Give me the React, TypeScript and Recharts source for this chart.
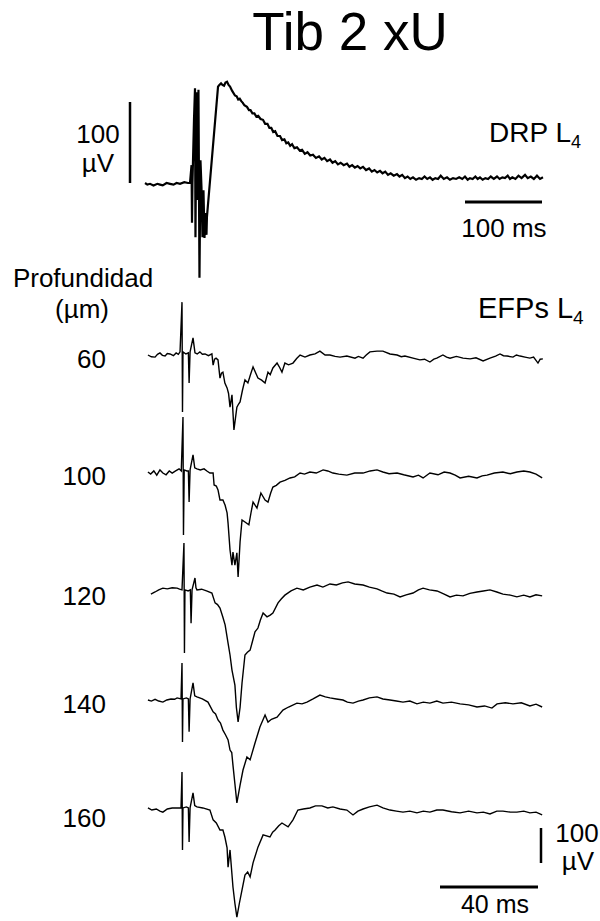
import React from 'react';
import { LineChart, Line, XAxis, YAxis, ReferenceLine } from 'recharts';

type Pt = [number, number]; // [ms, µV]

// DRP L4 root potential, time (ms) from stimulus, amplitude (µV)
const DRP_TRACE: Pt[] = [
  [-61, 0], [-58, -2], [-54.5, -1], [-50, -3], [-45, -1], [-41.6, -2], [-38, -3], [-33, 0], [-28.6, -1], [-24, -2],
  [-20, 0], [-15.6, -1], [-10, 1], [-5.2, 0], [-2.6, 0],
  [-0.6, 22], [0, -49], [0.6, 0], [2.6, 78], [3.9, 117], [4.5, -67], [5.8, 112], [7.1, -21], [8.4, 115], [9.7, -117],
  [11, 28], [12.3, -5], [13.6, -67], [14.9, -9], [16.2, -68], [17.5, -37], [18.8, -64], [19.4, -42],
  [33.8, 119], [35.5, 121], [37.7, 123], [39.5, 121], [41.6, 120], [43.5, 124], [45.5, 125], [47.5, 121], [49.4, 119],
  [52, 114], [55.8, 108], [58, 107], [60, 103], [62, 104], [64, 101], [66, 99], [68, 96], [71.4, 94], [74, 90],
  [76, 90], [78.5, 86], [81, 86], [83.5, 82], [86, 83], [89, 79], [92.2, 78], [95, 73], [98, 73], [100.5, 68],
  [103, 68], [105.5, 63], [108, 64], [111, 58], [114.3, 58], [117, 53], [120, 54], [122.5, 49], [125, 50], [127.5, 46],
  [130, 48], [133, 43], [136.4, 44], [140, 40], [143, 41], [146.5, 36], [150, 38], [153.5, 34], [157.1, 35], [161, 31],
  [165, 33], [168.5, 29], [172, 31], [175.5, 27], [179.2, 29], [182.5, 25], [186, 27], [189.5, 23], [193, 25],
  [197, 22], [201.3, 24], [204.5, 20], [208, 22], [211.5, 19], [215, 21], [218.5, 18], [222.1, 20], [226, 16],
  [230, 18], [233.5, 14], [237, 16], [240.5, 13], [244.2, 15], [247.5, 12], [251, 14], [254.5, 10], [258, 12],
  [262, 9], [266.2, 11], [269.5, 8], [273, 10], [276.5, 6], [280, 8], [283.5, 5], [287, 7], [291, 4], [295, 6],
  [298.5, 5], [302, 8], [305.5, 5], [309.1, 7], [312.5, 4], [316, 6], [319.5, 5], [323, 9], [327, 5], [331.2, 7],
  [335, 4], [339, 6], [343, 5], [347, 7], [351, 5], [354.5, 8], [358, 4], [361, 6], [364.5, 5], [368, 8], [371, 5],
  [374, 7], [377.5, 4], [381, 6], [384.5, 5], [388, 8], [392, 5], [396.1, 8], [399.5, 5], [403, 7], [406.5, 6],
  [410, 9], [413, 5], [416, 7], [420, 5], [424, 9], [428, 6], [432.5, 10], [436, 6], [440, 8], [444, 5], [448, 9],
  [452, 5], [455.8, 7],
];

// EFPs L4 at each depth
const DEPTHS = ['60', '100', '120', '140', '160'];

const EFP_60: Pt[] = [
  [-13.9, 0], [-12.5, -5], [-11, -6], [-10, 2], [-9, 6], [-8, -1], [-6.9, -3], [-6, 4], [-4.9, 3], [-3.5, -2], [-2.4, 6],
  [-1.5, 2], [-0.8, 9], [0, 151], [0.2, -163], [0.4, 9], [1.6, 3], [2.6, 6], [2.9, -80], [3.3, 9], [4.5, 49], [5.3, 6],
  [6.2, 3], [7.3, 9], [8.3, 2], [9.4, 3], [10.8, -2], [12.2, 3], [12.7, -29], [13.3, -12], [13.9, -9], [14.7, -14],
  [15.5, -66], [16.1, -52], [16.7, -49], [17.5, -80], [18.4, -94], [19, -110], [19.6, -149], [20.4, -114], [21.2, -214],
  [22.4, -149], [23.1, -140], [23.7, -134], [24.7, -100], [25.7, -71], [26.9, -80], [28, -55], [29, -34], [30, -50],
  [31, -66], [32.5, -72], [33.9, -80], [35.1, -49], [36, -56], [37.1, -37], [38.8, -23], [39.8, -35], [40.8, -49],
  [42, -23], [43.5, -28], [45.3, -23], [46.8, -10], [48.2, 0], [50.2, -6], [52.2, 0], [54.3, 3], [56.3, 11], [58.4, 0],
  [60.4, 0], [62.5, -4], [64.5, -6], [67.3, -3], [70.6, -9], [72, -4], [73.9, -9], [75.2, 0], [76.7, 9], [79.6, 11],
  [82, 11], [84.9, 3], [87.8, 0], [89.5, -5], [91, -3], [94.3, -9], [97.1, -14], [99, -12], [101.2, -20], [102.8, -12],
  [104, -9], [106.5, 0], [108, -6], [109.4, -9], [112, -4], [114.7, -9], [117.6, -11], [120, -8], [122.9, -17],
  [125.7, -9], [128, -3], [129.8, 3], [131.2, -2], [132.7, -3], [135.1, -6], [136.5, 0], [138, -3], [140, -6], [142, -9],
  [143.5, -6], [145.3, -23], [146.2, -12], [147.3, -11],
];

const EFP_100: Pt[] = [
  [-13.9, 0], [-12.8, -6], [-11.5, 3], [-10.3, -9], [-9, 6], [-7.8, -3], [-6.5, -8], [-5.2, 3], [-4, -3], [-2.6, 3],
  [-1.2, 9], [-0.3, 3], [0.4, 157], [0.6, -180], [0.9, 6], [2, 3], [2.6, 3], [2.9, -86], [3.3, 6], [4.5, 49], [5.2, 12],
  [6.1, 9], [7.5, 6], [9, 9], [10.3, 2], [11.4, -3], [12.7, -3], [13.1, -37], [14, -40], [14.7, -51], [15.5, -80],
  [16.7, -80], [17.6, -95], [18.4, -117], [18.8, -146], [19.6, -223], [20.4, -266], [20.8, -229], [21.6, -266],
  [22.4, -231], [22.9, -300], [23.7, -200], [24.5, -137], [25.7, -143], [27.3, -151], [28.2, -115], [29, -86],
  [30.6, -103], [32.2, -60], [33.9, -80], [35.1, -86], [36.2, -60], [37.1, -43], [38.5, -38], [40, -29], [42, -24],
  [44.1, -17], [46, -14], [48.2, -3], [50, -6], [52.2, 0], [54.8, -3], [57.6, 6], [59.5, 3], [61.6, -3], [64, -6],
  [67.3, -9], [70.5, -3], [73.9, -3], [76.8, 3], [79.6, 6], [82, 0], [84.5, -5], [87.8, -3], [90.5, -8], [94.3, -14],
  [96.5, -9], [98.4, -17], [101.2, -3], [104.5, -8], [107, 0], [109.4, -3], [111.5, -9], [113.5, -17], [117, -12],
  [120.4, -17], [122.5, -11], [124.5, -9], [127.5, -3], [131, 0], [134, -5], [136.7, 0], [139.5, 3], [142, 0],
  [144.5, -6], [147, -17],
];

const EFP_120: Pt[] = [
  [-12.7, -6], [-11, 0], [-9.5, 6], [-7.8, 11], [-6, 9], [-4, 12], [-2, 11], [-1, 8], [0, 6], [0.8, 140], [1.0, -174],
  [1.2, 6], [2.5, 3], [3.4, 6], [3.7, -89], [4.1, 6], [5.3, 40], [5.7, 12], [6.1, 6], [8, 8], [10, 3], [12.2, -3],
  [13.5, -31], [14.5, -36], [15.5, -46], [16.6, -70], [17.6, -94], [18.8, -146], [19.6, -180], [20.4, -223],
  [21.6, -266], [22.2, -330], [22.9, -371], [23.7, -330], [24.5, -260], [25.7, -180], [26.7, -172], [27.8, -166],
  [28.8, -140], [29.8, -114], [31, -103], [32, -80], [33.1, -60], [34.7, -71], [36, -66], [37.1, -60], [39.2, -31],
  [40.5, -20], [42, -9], [44.5, 3], [46.9, 11], [49.5, 6], [52.2, 14], [55.1, 20], [57.5, 14], [60.4, 23], [63, 20],
  [65.5, 26], [67.8, 29], [70.5, 23], [73.9, 20], [76.5, 14], [79.6, 9], [81.5, 3], [83.7, -3], [86.5, -6], [89, -14],
  [91.5, -8], [94.3, -3], [96.5, 6], [98.4, 11], [101, 6], [104.1, 3], [107, -6], [109.4, -14], [112, -9], [114.7, -11],
  [117.5, -4], [120.4, 0], [123, 3], [125.7, 6], [128.5, 0], [131, -6], [134, -9], [136.7, -14], [139.5, -9], [142, -14],
  [144.5, -8], [147, -11],
];

const EFP_140: Pt[] = [
  [-13.9, 0], [-12.5, -3], [-11, 2], [-9.5, -3], [-7.8, -6], [-6.2, 0], [-4.5, 3], [-3, 2], [-2, 6], [-0.4, 3],
  [0, 106], [0.2, -120], [0.4, 3], [1.8, 6], [2.6, 3], [2.9, -91], [3.3, 3], [4.5, 49], [5.2, 12], [6.1, 9], [8.3, 3],
  [10.6, -6], [12.7, -34], [13.7, -40], [14.7, -57], [15.7, -66], [16.7, -86], [17.8, -100], [18.8, -114], [19.6, -143],
  [20.3, -150], [20.8, -186], [21.6, -240], [22.4, -294], [23.7, -243], [24.9, -200], [26.5, -163], [27.8, -171],
  [29.8, -123], [31.8, -77], [33.9, -43], [35.1, -63], [36.5, -55], [38.8, -49], [41.2, -29], [43.5, -20], [46.9, -9],
  [49, -11], [51, -6], [53.5, 3], [56.3, 14], [58.5, 9], [60.4, 6], [63, 3], [65.7, 0], [67.5, -6], [69.8, -9], [72, -3],
  [73.9, 0], [76.5, 6], [79.6, 9], [82, 3], [84.9, 0], [87.5, -3], [90.2, -6], [93, -3], [95.9, -11], [98.5, -6],
  [101.2, -9], [104, -3], [106.5, -9], [110, -6], [113.5, -11], [117, -14], [120.4, -20], [123.5, -17], [126.5, -23],
  [128.6, -11], [132, -8], [135.1, -11], [138.5, -8], [142, -17], [144.5, -12], [147, -20],
];

const EFP_160: Pt[] = [
  [-13.9, 3], [-12.3, -3], [-10.5, 0], [-9, -6], [-7.8, -9], [-6, 0], [-4, 3], [-2, 3], [-0.4, 3], [0, 106],
  [0.2, -117], [0.4, 3], [1.8, 6], [2.6, 3], [2.9, -94], [3.3, 3], [4.5, 46], [5.2, 10], [6.1, 6], [8.5, 3], [11.4, -3],
  [12.7, -31], [14, -40], [15.5, -60], [16.7, -60], [17.5, -80], [18.4, -111], [18.8, -166], [19.6, -117], [20.8, -223],
  [21.6, -270], [22.4, -309], [23.4, -270], [24.5, -231], [25.7, -189], [26.8, -180], [27.8, -194], [29, -154],
  [31, -109], [33.1, -74], [35.9, -80], [37, -66], [38, -60], [39.5, -48], [40.8, -40], [43.3, -51], [45.3, -31],
  [47.3, -3], [49.5, 0], [52.2, 3], [54.5, 9], [57.1, 9], [59.5, 3], [61.6, 6], [64.5, 0], [67.3, -3], [69.8, -17],
  [71.8, -6], [73.9, 0], [76.5, 6], [79.6, 11], [82, 3], [84.9, -3], [87.5, -6], [90.2, -9], [93, -6], [95.9, -11],
  [98.5, -6], [101.2, -9], [104, -3], [106.5, -3], [110, -8], [113.5, -11], [117, -6], [120.4, -11], [123, -9],
  [125.7, -14], [128.5, -6], [131, -6], [134, -9], [136.7, -9], [139.5, -6], [142, -11], [144.5, -9], [147, -17],
];

const EFP_TRACES = [EFP_60, EFP_100, EFP_120, EFP_140, EFP_160];

// scale bars
const DRP_BAR_UV = 100;
const DRP_BAR_MS = 100;
const EFP_BAR_UV = 100;
const EFP_BAR_MS = 40;

// ---- layout ----
const FONT = '"Liberation Sans", Arial, Helvetica, sans-serif';

// DRP panel: 0.77 px per ms, 81 px per 100 µV, stimulus at x=192, baseline at y=183
const DRP_BOX = { left: 80, top: 60, width: 480, height: 240 };
const DRP_PX_MS = 0.77;
const DRP_PX_UV = 0.81;
const DRP_X0 = 192;
const DRP_Y0 = 183;
const drpX: [number, number] = [
  (DRP_BOX.left - DRP_X0) / DRP_PX_MS,
  (DRP_BOX.left + DRP_BOX.width - DRP_X0) / DRP_PX_MS,
];
const drpY: [number, number] = [
  (DRP_Y0 - DRP_BOX.top - DRP_BOX.height) / DRP_PX_UV,
  (DRP_Y0 - DRP_BOX.top) / DRP_PX_UV,
];

// EFP panel: 2.45 px per ms, 35 px per 100 µV, stimulus at x=182
const EFP_BOX = { left: 140, top: 290, width: 420, height: 631 };
const EFP_PX_MS = 2.45;
const EFP_PX_UV = 0.35;
const EFP_X0 = 182;
const TRACE_BASE_Y = [355, 472, 592, 700, 809];
const efpX: [number, number] = [
  (EFP_BOX.left - EFP_X0) / EFP_PX_MS,
  (EFP_BOX.left + EFP_BOX.width - EFP_X0) / EFP_PX_MS,
];
const efpY: [number, number] = [-EFP_BOX.height / EFP_PX_UV, 0];
const efpOffset = (i: number) => -(TRACE_BASE_Y[i] - EFP_BOX.top) / EFP_PX_UV;

const toRows = (pts: Pt[], off = 0) => pts.map(([t, v]) => ({ t, v: v + off }));

const noMargin = { top: 0, right: 0, bottom: 0, left: 0 };

export default function App() {
  const drpRows = toRows(DRP_TRACE);
  const efpRows = EFP_TRACES.map((tr, i) => toRows(tr, efpOffset(i)));

  // scale bar anchors (data units)
  const drpBarT = (130 - DRP_X0) / DRP_PX_MS;
  const drpHBarV = (DRP_Y0 - 202) / DRP_PX_UV;
  const drpHBarT1 = (542 - DRP_X0) / DRP_PX_MS;
  const efpVBarT = (541 - EFP_X0) / EFP_PX_MS;
  const efpVBarV = -(863 - EFP_BOX.top) / EFP_PX_UV;
  const efpHBarV = -(887 - EFP_BOX.top) / EFP_PX_UV;
  const efpHBarT1 = (538 - EFP_X0) / EFP_PX_MS;

  const txt = { fontFamily: FONT, fill: '#000' };

  return (
    <div style={{ position: 'absolute', left: 0, top: 0, width: 600, height: 921, background: '#fff' }}>
      <div style={{ position: 'absolute', left: DRP_BOX.left, top: DRP_BOX.top }}>
        <LineChart width={DRP_BOX.width} height={DRP_BOX.height} margin={noMargin}>
          <XAxis type="number" dataKey="t" domain={drpX} allowDataOverflow hide />
          <YAxis type="number" domain={drpY} allowDataOverflow hide />
          <Line data={drpRows} dataKey="v" type="linear" stroke="#000" strokeWidth={2.2}
            dot={false} isAnimationActive={false} />
          <ReferenceLine segment={[{ x: drpBarT, y: 0 }, { x: drpBarT, y: DRP_BAR_UV }]}
            stroke="#000" strokeWidth={2.5} ifOverflow="visible" />
          <ReferenceLine segment={[{ x: drpHBarT1 - DRP_BAR_MS, y: drpHBarV }, { x: drpHBarT1, y: drpHBarV }]}
            stroke="#000" strokeWidth={3} ifOverflow="visible" />
        </LineChart>
      </div>

      <div style={{ position: 'absolute', left: EFP_BOX.left, top: EFP_BOX.top }}>
        <LineChart width={EFP_BOX.width} height={EFP_BOX.height} margin={noMargin}>
          <XAxis type="number" dataKey="t" domain={efpX} allowDataOverflow hide />
          <YAxis type="number" domain={efpY} allowDataOverflow hide />
          {efpRows.map((rows, i) => (
            <Line key={DEPTHS[i]} data={rows} dataKey="v" type="linear" stroke="#000" strokeWidth={1.4}
              dot={false} isAnimationActive={false} />
          ))}
          <ReferenceLine segment={[{ x: efpVBarT, y: efpVBarV }, { x: efpVBarT, y: efpVBarV + EFP_BAR_UV }]}
            stroke="#000" strokeWidth={2.5} ifOverflow="visible" />
          <ReferenceLine segment={[{ x: efpHBarT1 - EFP_BAR_MS, y: efpHBarV }, { x: efpHBarT1, y: efpHBarV }]}
            stroke="#000" strokeWidth={3} ifOverflow="visible" />
        </LineChart>
      </div>

      <svg width={600} height={921} style={{ position: 'absolute', left: 0, top: 0, pointerEvents: 'none' }}>
        <text x={350} y={50} fontSize={53} textAnchor="middle" {...txt}>Tib 2 xU</text>

        <text x={98} y={143} fontSize={26} textAnchor="middle" {...txt}>100</text>
        <text x={98} y={172} fontSize={26} textAnchor="middle" {...txt}>µV</text>

        <text x={489} y={142} fontSize={28} {...txt}>
          DRP L<tspan fontSize={18} dy={6}>4</tspan>
        </text>
        <text x={504} y={237} fontSize={26} textAnchor="middle" {...txt}>100 ms</text>

        <text x={83} y={287} fontSize={26} textAnchor="middle" {...txt}>Profundidad</text>
        <text x={82} y={318} fontSize={26} textAnchor="middle" {...txt}>(µm)</text>

        <text x={478} y={318} fontSize={29} {...txt}>
          EFPs L<tspan fontSize={19} dy={6}>4</tspan>
        </text>

        {DEPTHS.map((d, i) => (
          <text key={d} x={106} y={TRACE_BASE_Y[i] + 13 + (i === 4 ? 5 : 0)} fontSize={26} textAnchor="end" {...txt}>{d}</text>
        ))}

        <text x={577} y={842} fontSize={26} textAnchor="middle" {...txt}>100</text>
        <text x={578} y={870} fontSize={26} textAnchor="middle" {...txt}>µV</text>
        <text x={495} y={913} fontSize={25} textAnchor="middle" {...txt}>40 ms</text>
      </svg>
    </div>
  );
}
